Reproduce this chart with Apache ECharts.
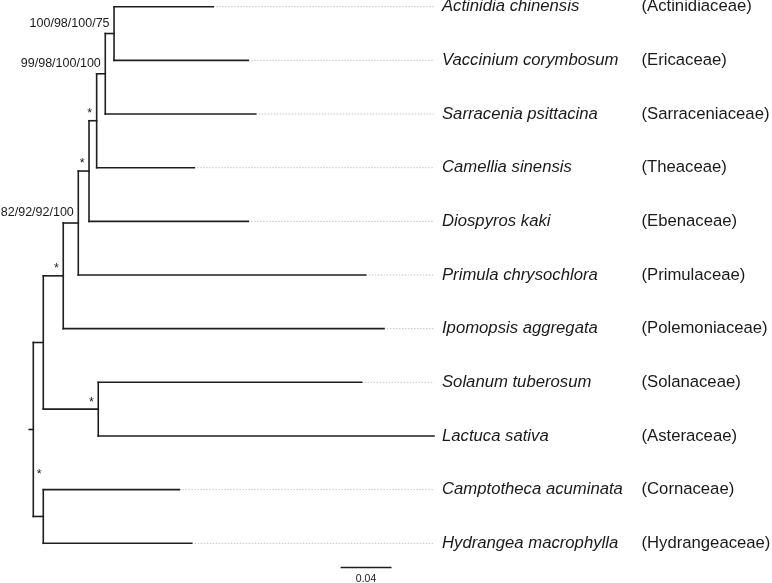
<!DOCTYPE html>
<html><head><meta charset="utf-8">
<script src="https://cdn.jsdelivr.net/npm/echarts@6/dist/echarts.min.js"></script>
<style>html,body{margin:0;padding:0;background:#fff}#c{width:772px;height:583px}</style>
</head><body><div id="c"></div>
<script>
// ---- data ----
const tipNames = ['Actinidia chinensis','Vaccinium corymbosum','Sarracenia psittacina','Camellia sinensis',
  'Diospyros kaki','Primula chrysochlora','Ipomopsis aggregata','Solanum tuberosum','Lactuca sativa',
  'Camptotheca acuminata','Hydrangea macrophylla'];
const tipFamilies = ['(Actinidiaceae)','(Ericaceae)','(Sarraceniaceae)','(Theaceae)','(Ebenaceae)',
  '(Primulaceae)','(Polemoniaceae)','(Solanaceae)','(Asteraceae)','(Cornaceae)','(Hydrangeaceae)'];
const edgeParent = ['root','root','A','A','B','B','D','D','E','E','F','F','G','G','H','H','C','C','K','K'];
const edgeChild  = ['A','K','B','C','Ipomopsis aggregata','D','Primula chrysochlora','E','Diospyros kaki','F',
  'Camellia sinensis','G','Sarracenia psittacina','H','Actinidia chinensis','Vaccinium corymbosum',
  'Solanum tuberosum','Lactuca sativa','Camptotheca acuminata','Hydrangea macrophylla'];
const edgeLength = [0.0081,0.0081,0.0162,0.0446,0.2602,0.0122,0.2332,0.0087,0.1292,0.0062,
  0.0792,0.0070,0.1220,0.0071,0.0805,0.1089,0.2137,0.2724,0.1104,0.1204];
const rootEdge = 0.0033;
const supportNodes  = ['H','G','F','E','D','B','C','K'];
const supportLabels = ['100/98/100/75','99/98/100/100','*','*','82/92/92/100','*','*','*'];
const scaleBarStart = 0.25, scaleBarLength = 0.04, scaleBarLabel = '0.04', scaleBarRow = 10.45;

// ---- tree layout from data ----
const children = {}, blen = {};
edgeParent.forEach((p, i) => { (children[p] = children[p] || []).push(edgeChild[i]); blen[edgeChild[i]] = edgeLength[i]; });
const depth = { root: 0 }, yPos = {}, parentOf = {};
function walk(n) {
  const ch = children[n];
  if (!ch) { yPos[n] = tipNames.indexOf(n); return; }
  ch.forEach(c => { parentOf[c] = n; depth[c] = depth[n] + blen[c]; walk(c); });
  yPos[n] = ch.reduce((s, c) => s + yPos[c], 0) / ch.length;
}
walk('root');
const maxDepth = Math.max(...tipNames.map(t => depth[t]));

const branchSegs = [];
edgeChild.forEach((c, i) => { const p = edgeParent[i]; branchSegs.push([depth[p], yPos[c], depth[c], yPos[c]]); });
Object.keys(children).forEach(n => {
  const ys = children[n].map(c => yPos[c]);
  branchSegs.push([depth[n], Math.min(...ys), depth[n], Math.max(...ys)]);
});
branchSegs.push([-rootEdge, yPos.root, 0, yPos.root]);
branchSegs.push([scaleBarStart, scaleBarRow, scaleBarStart + scaleBarLength, scaleBarRow]);

const dotSegs = tipNames.filter(t => depth[t] < maxDepth - 1e-9).map(t => [depth[t], yPos[t], maxDepth, yPos[t]]);
const tipPts = tipNames.map(t => [maxDepth, yPos[t]]);
const supPts = supportNodes.map(n => n === 'K'
  ? [(depth[n] + depth[parentOf[n]]) / 2, (yPos[n] + yPos[parentOf[n]]) / 2]
  : [depth[n], yPos[n]]);

const FONT = '"Liberation Sans", Arial, Helvetica, sans-serif';
function segSeries(data, style) {
  return {
    type: 'custom', data, clip: false, silent: true, encode: { x: [0, 2], y: [1, 3] },
    renderItem: (params, api) => {
      const a = api.coord([api.value(0), api.value(1)]);
      const b = api.coord([api.value(2), api.value(3)]);
      return { type: 'line', shape: { x1: a[0], y1: a[1], x2: b[0], y2: b[1] }, style };
    }
  };
}
function textSeries(data, fn) {
  return {
    type: 'custom', data, clip: false, silent: true, encode: { x: 0, y: 1 },
    renderItem: (params, api) => {
      const p = api.coord([api.value(0), api.value(1)]);
      return fn(params.dataIndex, p);
    }
  };
}

const chart = echarts.init(document.getElementById('c'), null, { renderer: 'canvas' });
chart.setOption({
  animation: false,
  backgroundColor: '#ffffff',
  grid: { left: 0, right: 0, top: 0, bottom: 0 },
  xAxis: { type: 'value', min: -0.02702, max: 0.59935, show: false },
  yAxis: { type: 'value', inverse: true, min: -0.12486, max: 10.7398, show: false },
  series: [
    segSeries(dotSegs, { stroke: '#c4c4c4', lineWidth: 1, lineDash: [1.5, 1.5] }),
    segSeries(branchSegs, { stroke: '#1e1e1e', lineWidth: 1.6, lineCap: 'square' }),
    textSeries(tipPts, (i, p) => ({
      type: 'text', x: p[0] + 8, y: p[1],
      style: { text: tipNames[i], fill: '#1a1a1a', fontSize: 16.7, fontStyle: 'italic', fontFamily: FONT, align: 'left', verticalAlign: 'middle' }
    })),
    textSeries(tipPts, (i, p) => ({
      type: 'text', x: p[0] + 207.5, y: p[1],
      style: { text: tipFamilies[i], fill: '#1a1a1a', fontSize: 16.7, fontFamily: FONT, align: 'left', verticalAlign: 'middle' }
    })),
    textSeries(supPts, (i, p) => {
      const star = supportLabels[i] === '*';
      const special = supportNodes[i] === 'K';
      return {
        type: 'text', x: special ? p[0] + 1 : p[0] - 4.5, y: p[1] + (special ? 2 : (star ? -7 : -10)),
        style: { text: supportLabels[i], fill: '#1a1a1a', fontSize: 12.5, fontFamily: FONT,
          align: special ? 'center' : 'right', verticalAlign: 'middle' }
      };
    }),
    textSeries([[scaleBarStart + scaleBarLength / 2, scaleBarRow]], (i, p) => ({
      type: 'text', x: p[0], y: p[1] + 11.5,
      style: { text: scaleBarLabel, fill: '#1a1a1a', fontSize: 10.5, fontFamily: FONT, align: 'center', verticalAlign: 'middle' }
    }))
  ]
});
</script></body></html>
